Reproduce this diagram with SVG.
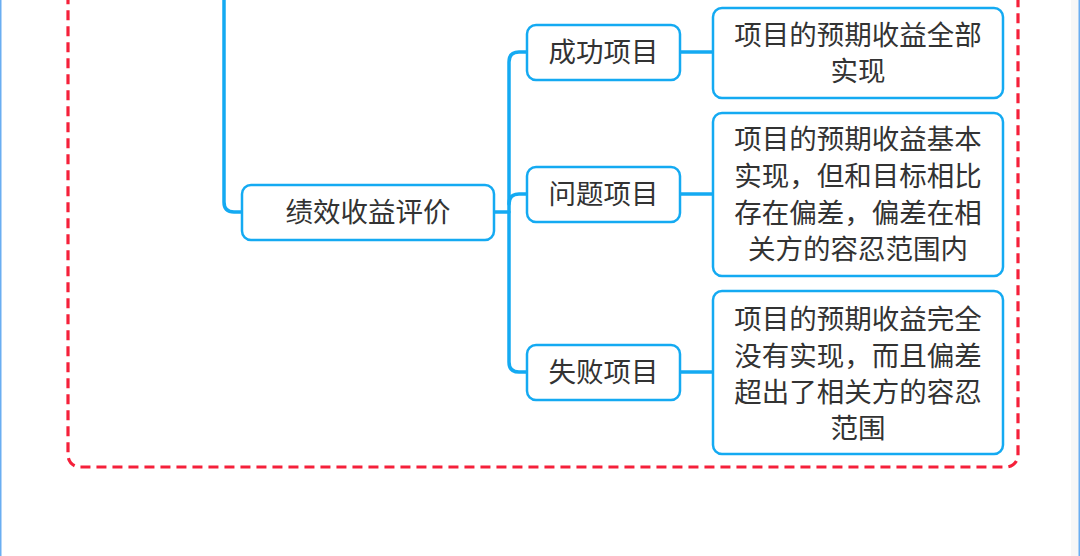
<svg xmlns="http://www.w3.org/2000/svg" width="1080" height="556" viewBox="0 0 1080 556">
<style>
.node rect{fill:#ffffff;stroke:#14aaf2;stroke-width:2.5}
.conn path{fill:none;stroke:#14aaf2;stroke-width:3.5;stroke-linecap:round}
text{font-family:"Noto Sans CJK SC","Noto Sans",sans-serif;font-size:27.5px;fill:#333333;text-anchor:middle;dominant-baseline:central}
</style>
<rect x="0" y="0" width="1080" height="556" fill="#ffffff"/>
<rect x="1071" y="0" width="8" height="556" fill="#f7f7f7"/>
<rect x="1078.5" y="0" width="1.5" height="556" fill="#6aaef2"/>
<rect x="0" y="0" width="1.5" height="556" fill="#6aaef2"/>
<rect id="frame" x="68" y="-30" width="950" height="497" rx="12" fill="none" stroke="#f5203a" stroke-width="3.2" stroke-dasharray="10 6"/>
<g class="conn" id="connectors">
<path d="M224 0 V202 Q224 212 234 212 H242"/>
<path d="M494 212 H509"/>
<path d="M527 52 H519 Q509 52 509 62 V362 Q509 372 519 372 H527"/>
<path d="M509 204 Q509 194 519 194 H527"/>
<path d="M680 52 H713"/>
<path d="M680 194 H713"/>
<path d="M680 372 H713"/>
</g>
<g class="node" id="n-perf"><rect x="242" y="185" width="252" height="55" rx="9"/><text x="368" y="210">绩效收益评价</text></g>
<g class="node" id="n-success"><rect x="527" y="25" width="153" height="55" rx="9"/><text x="603.5" y="50">成功项目</text></g>
<g class="node" id="n-problem"><rect x="527" y="167" width="153" height="55" rx="9"/><text x="603.5" y="192">问题项目</text></g>
<g class="node" id="n-fail"><rect x="527" y="345" width="153" height="55" rx="9"/><text x="603.5" y="370">失败项目</text></g>
<g class="node" id="d-success"><rect x="713" y="8" width="290" height="90" rx="9"/><text x="858" y="33">项目的预期收益全部</text><text x="858" y="69">实现</text></g>
<g class="node" id="d-problem"><rect x="713" y="113" width="290" height="163" rx="9"/><text x="858" y="137">项目的预期收益基本</text><text x="858" y="174">实现，但和目标相比</text><text x="858" y="211">存在偏差，偏差在相</text><text x="858" y="247">关方的容忍范围内</text></g>
<g class="node" id="d-fail"><rect x="713" y="291" width="290" height="163" rx="9"/><text x="858" y="317">项目的预期收益完全</text><text x="858" y="354">没有实现，而且偏差</text><text x="858" y="390">超出了相关方的容忍</text><text x="858" y="426">范围</text></g>
</svg>
